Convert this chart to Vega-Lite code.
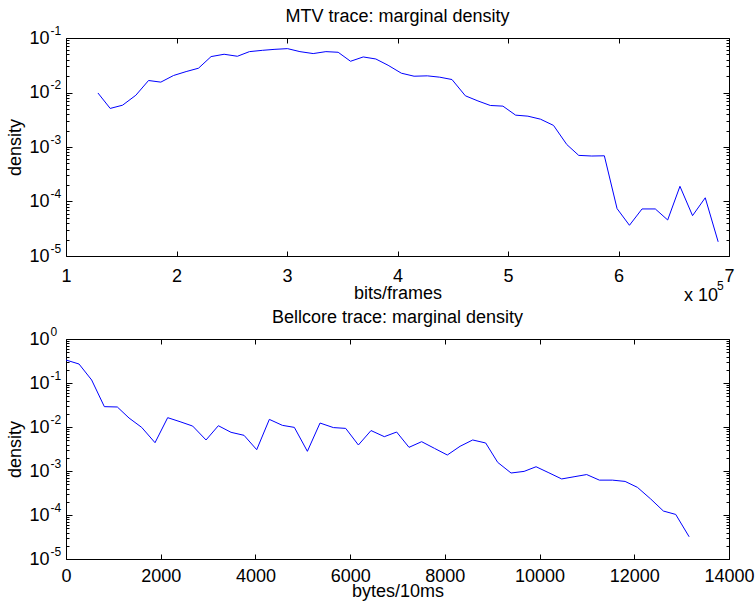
{
  "$schema": "https://vega.github.io/schema/vega-lite/v6.json",
  "background": "white",
  "padding": {"left": 5, "top": 7, "right": 0, "bottom": 0},
  "datasets": {
    "mtv": [
      {"x": 1.289, "density": 0.0098}, {"x": 1.400, "density": 0.0051}, {"x": 1.512, "density": 0.00585}, {"x": 1.632, "density": 0.0089},
      {"x": 1.747, "density": 0.0166}, {"x": 1.858, "density": 0.0155}, {"x": 1.973, "density": 0.0205}, {"x": 2.087, "density": 0.0242},
      {"x": 2.199, "density": 0.0279}, {"x": 2.313, "density": 0.0456}, {"x": 2.431, "density": 0.0503}, {"x": 2.551, "density": 0.0462},
      {"x": 2.660, "density": 0.0562}, {"x": 2.777, "density": 0.0594}, {"x": 2.891, "density": 0.062}, {"x": 3.005, "density": 0.0638},
      {"x": 3.117, "density": 0.0562}, {"x": 3.237, "density": 0.0518}, {"x": 3.352, "density": 0.0562}, {"x": 3.463, "density": 0.0547},
      {"x": 3.575, "density": 0.0374}, {"x": 3.690, "density": 0.0449}, {"x": 3.804, "density": 0.0412}, {"x": 3.915, "density": 0.0316},
      {"x": 4.035, "density": 0.0226}, {"x": 4.150, "density": 0.0199}, {"x": 4.270, "density": 0.0202}, {"x": 4.382, "density": 0.0191},
      {"x": 4.493, "density": 0.0173}, {"x": 4.614, "density": 0.0087}, {"x": 4.728, "density": 0.0070}, {"x": 4.840, "density": 0.00578},
      {"x": 4.954, "density": 0.00562}, {"x": 5.069, "density": 0.00384}, {"x": 5.180, "density": 0.00368}, {"x": 5.294, "density": 0.00324},
      {"x": 5.412, "density": 0.00249}, {"x": 5.532, "density": 0.00111}, {"x": 5.640, "density": 0.000702}, {"x": 5.758, "density": 0.000683},
      {"x": 5.872, "density": 0.00069}, {"x": 5.987, "density": 0.000074}, {"x": 6.099, "density": 0.0000366}, {"x": 6.213, "density": 0.000073},
      {"x": 6.333, "density": 0.000073}, {"x": 6.445, "density": 0.0000458}, {"x": 6.556, "density": 0.00019}, {"x": 6.670, "density": 0.000055},
      {"x": 6.785, "density": 0.000117}, {"x": 6.902, "density": 0.0000182}
    ],
    "bellcore": [
      {"x": 0, "density": 0.333}, {"x": 275, "density": 0.27}, {"x": 542, "density": 0.117}, {"x": 810, "density": 0.029},
      {"x": 1084, "density": 0.0285}, {"x": 1331, "density": 0.016}, {"x": 1598, "density": 0.0098}, {"x": 1880, "density": 0.0044},
      {"x": 2147, "density": 0.0163}, {"x": 2408, "density": 0.0132}, {"x": 2675, "density": 0.0105}, {"x": 2957, "density": 0.00507},
      {"x": 3217, "density": 0.0107}, {"x": 3485, "density": 0.00757}, {"x": 3759, "density": 0.00647}, {"x": 4027, "density": 0.00305},
      {"x": 4294, "density": 0.0149}, {"x": 4569, "density": 0.0109}, {"x": 4822, "density": 0.0098}, {"x": 5097, "density": 0.0028},
      {"x": 5364, "density": 0.0123}, {"x": 5646, "density": 0.0097}, {"x": 5906, "density": 0.0093}, {"x": 6174, "density": 0.0039},
      {"x": 6441, "density": 0.0083}, {"x": 6722, "density": 0.00603}, {"x": 6982, "density": 0.00769}, {"x": 7243, "density": 0.00345},
      {"x": 7510, "density": 0.00464}, {"x": 7781, "density": 0.00327}, {"x": 8052, "density": 0.00231}, {"x": 8321, "density": 0.00364},
      {"x": 8588, "density": 0.00507}, {"x": 8862, "density": 0.00433}, {"x": 9116, "density": 0.00157}, {"x": 9398, "density": 0.0009},
      {"x": 9673, "density": 0.00098}, {"x": 9926, "density": 0.00125}, {"x": 10197, "density": 0.00091}, {"x": 10467, "density": 0.00066},
      {"x": 10728, "density": 0.00074}, {"x": 10995, "density": 0.00083}, {"x": 11263, "density": 0.00062}, {"x": 11538, "density": 0.00062},
      {"x": 11806, "density": 0.00058}, {"x": 12066, "density": 0.000425}, {"x": 12347, "density": 0.000231}, {"x": 12615, "density": 0.000123},
      {"x": 12875, "density": 0.000103}, {"x": 13158, "density": 0.000032}
    ],
    "note": [{"base": "x 10", "exp": "5"}]
  },
  "config": {
    "font": "Liberation Sans",
    "view": {"stroke": "black", "strokeWidth": 1},
    "axis": {
      "domain": false, "tickColor": "black", "tickWidth": 1,
      "labelColor": "black", "titleColor": "black", "labelFont": "Liberation Sans", "titleFont": "Liberation Sans",
      "labelFontSize": 18, "titleFontSize": 18, "titleFontWeight": "normal", "grid": false,
      "labelFlush": false, "labelOverlap": false
    },
    "title": {"font": "Liberation Sans", "fontSize": 18, "fontWeight": "normal", "color": "black", "baseline": "alphabetic", "offset": -2}
  },
  "bounds": "flush",
  "spacing": 83,
  "vconcat": [
    {
      "width": 663, "height": 218,
      "title": {"text": "MTV trace: marginal density"},
      "data": {"name": "mtv"},
      "layer": [
        {
          "mark": {"type": "line", "color": "#0000ff", "strokeWidth": 1},
          "encoding": {
            "x": {"field": "x", "type": "quantitative", "scale": {"domain": [1, 7], "nice": false, "zero": false},
              "axis": {"orient": "bottom", "offset": -5, "values": [1, 2, 3, 4, 5, 6, 7], "tickSize": 5, "labelPadding": 11, "title": "bits/frames", "titleBaseline": "alphabetic", "titleY": 47}},
            "y": {"field": "density", "type": "quantitative", "scale": {"type": "log", "domain": [1e-5, 0.1], "nice": false},
              "axis": {"orient": "left", "offset": -6, "tickSize": 6, "title": "density", "titleBaseline": "alphabetic", "titleX": -52, "titleY": 109, "labelPadding": 17,
                "values": [1e-5, 1e-4, 1e-3, 1e-2, 1e-1], "labelExpr": "'10'"}}
          }
        },
        {
          "mark": {"type": "line", "opacity": 0},
          "encoding": {
            "x": {"field": "x", "type": "quantitative", "axis": null},
            "y": {"field": "density", "type": "quantitative",
              "axis": {"orient": "left", "ticks": false, "tickSize": 0, "title": null, "labelAlign": "left", "labelPadding": 16, "labelFontSize": 12, "labelOffset": -8,
                "values": [1e-5, 1e-4, 1e-3, 1e-2, 1e-1], "labelExpr": "'' + round(log(datum.value)/LN10)"}}
          }
        },
        {
          "mark": {"type": "line", "opacity": 0},
          "encoding": {
            "x": {"field": "x", "type": "quantitative", "axis": {"orient": "top", "offset": -5, "values": [1, 2, 3, 4, 5, 6, 7], "tickSize": 5, "labels": false, "title": null}},
            "y": {"field": "density", "type": "quantitative", "axis": {"orient": "right", "offset": -6, "tickSize": 6, "labels": false, "title": null, "values": [1e-5, 1e-4, 1e-3, 1e-2, 1e-1]}}
          }
        },
        {
          "mark": {"type": "line", "opacity": 0},
          "encoding": {
            "x": {"field": "x", "type": "quantitative", "axis": null},
            "y": {"field": "density", "type": "quantitative", "axis": {"orient": "left", "offset": -3, "tickSize": 3, "labels": false, "title": null,
              "values": [2e-5, 3e-5, 4e-5, 5e-5, 6e-5, 7e-5, 8e-5, 9e-5, 2e-4, 3e-4, 4e-4, 5e-4, 6e-4, 7e-4, 8e-4, 9e-4, 2e-3, 3e-3, 4e-3, 5e-3, 6e-3, 7e-3, 8e-3, 9e-3, 2e-2, 3e-2, 4e-2, 5e-2, 6e-2, 7e-2, 8e-2, 9e-2]}}
          }
        },
        {
          "mark": {"type": "line", "opacity": 0},
          "encoding": {
            "x": {"field": "x", "type": "quantitative", "axis": null},
            "y": {"field": "density", "type": "quantitative", "axis": {"orient": "right", "offset": -3, "tickSize": 3, "labels": false, "title": null,
              "values": [2e-5, 3e-5, 4e-5, 5e-5, 6e-5, 7e-5, 8e-5, 9e-5, 2e-4, 3e-4, 4e-4, 5e-4, 6e-4, 7e-4, 8e-4, 9e-4, 2e-3, 3e-3, 4e-3, 5e-3, 6e-3, 7e-3, 8e-3, 9e-3, 2e-2, 3e-2, 4e-2, 5e-2, 6e-2, 7e-2, 8e-2, 9e-2]}}
          }
        },
        {
          "data": {"name": "note"},
          "mark": {"type": "text", "align": "right", "baseline": "alphabetic", "fontSize": 18, "dx": -11, "dy": 45, "color": "black"},
          "encoding": {
            "text": {"field": "base"},
            "x": {"datum": 7, "type": "quantitative", "axis": null},
            "y": {"datum": 1e-5, "type": "quantitative", "axis": null}
          }
        },
        {
          "data": {"name": "note"},
          "mark": {"type": "text", "align": "left", "baseline": "alphabetic", "fontSize": 12, "dx": -12, "dy": 34, "color": "black"},
          "encoding": {
            "text": {"field": "exp"},
            "x": {"datum": 7, "type": "quantitative", "axis": null},
            "y": {"datum": 1e-5, "type": "quantitative", "axis": null}
          }
        }
      ],
      "resolve": {"axis": {"x": "independent", "y": "independent"}}
    },
    {
      "width": 663, "height": 220,
      "title": {"text": "Bellcore trace: marginal density"},
      "data": {"name": "bellcore"},
      "layer": [
        {
          "mark": {"type": "line", "color": "#0000ff", "strokeWidth": 1},
          "encoding": {
            "x": {"field": "x", "type": "quantitative", "scale": {"domain": [0, 14000], "nice": false},
              "axis": {"orient": "bottom", "offset": -5, "values": [0, 2000, 4000, 6000, 8000, 10000, 12000, 14000], "format": "d", "tickSize": 5, "labelPadding": 8, "title": "bytes/10ms", "titleBaseline": "alphabetic", "titleY": 42}},
            "y": {"field": "density", "type": "quantitative", "scale": {"type": "log", "domain": [1e-5, 1], "nice": false},
              "axis": {"orient": "left", "offset": -6, "tickSize": 6, "title": "density", "titleBaseline": "alphabetic", "titleX": -52, "titleY": 110, "labelPadding": 17,
                "values": [1e-5, 1e-4, 1e-3, 1e-2, 1e-1, 1], "labelExpr": "'10'"}}
          }
        },
        {
          "mark": {"type": "line", "opacity": 0},
          "encoding": {
            "x": {"field": "x", "type": "quantitative", "axis": null},
            "y": {"field": "density", "type": "quantitative",
              "axis": {"orient": "left", "ticks": false, "tickSize": 0, "title": null, "labelAlign": "left", "labelPadding": 16, "labelFontSize": 12, "labelOffset": -8,
                "values": [1e-5, 1e-4, 1e-3, 1e-2, 1e-1, 1], "labelExpr": "'' + round(log(datum.value)/LN10)"}}
          }
        },
        {
          "mark": {"type": "line", "opacity": 0},
          "encoding": {
            "x": {"field": "x", "type": "quantitative", "axis": {"orient": "top", "offset": -5, "values": [0, 2000, 4000, 6000, 8000, 10000, 12000, 14000], "tickSize": 5, "labels": false, "title": null}},
            "y": {"field": "density", "type": "quantitative", "axis": {"orient": "right", "offset": -6, "tickSize": 6, "labels": false, "title": null, "values": [1e-5, 1e-4, 1e-3, 1e-2, 1e-1, 1]}}
          }
        },
        {
          "mark": {"type": "line", "opacity": 0},
          "encoding": {
            "x": {"field": "x", "type": "quantitative", "axis": null},
            "y": {"field": "density", "type": "quantitative", "axis": {"orient": "left", "offset": -3, "tickSize": 3, "labels": false, "title": null,
              "values": [2e-5, 3e-5, 4e-5, 5e-5, 6e-5, 7e-5, 8e-5, 9e-5, 2e-4, 3e-4, 4e-4, 5e-4, 6e-4, 7e-4, 8e-4, 9e-4, 2e-3, 3e-3, 4e-3, 5e-3, 6e-3, 7e-3, 8e-3, 9e-3, 2e-2, 3e-2, 4e-2, 5e-2, 6e-2, 7e-2, 8e-2, 9e-2, 0.2, 0.3, 0.4, 0.5, 0.6, 0.7, 0.8, 0.9]}}
          }
        },
        {
          "mark": {"type": "line", "opacity": 0},
          "encoding": {
            "x": {"field": "x", "type": "quantitative", "axis": null},
            "y": {"field": "density", "type": "quantitative", "axis": {"orient": "right", "offset": -3, "tickSize": 3, "labels": false, "title": null,
              "values": [2e-5, 3e-5, 4e-5, 5e-5, 6e-5, 7e-5, 8e-5, 9e-5, 2e-4, 3e-4, 4e-4, 5e-4, 6e-4, 7e-4, 8e-4, 9e-4, 2e-3, 3e-3, 4e-3, 5e-3, 6e-3, 7e-3, 8e-3, 9e-3, 2e-2, 3e-2, 4e-2, 5e-2, 6e-2, 7e-2, 8e-2, 9e-2, 0.2, 0.3, 0.4, 0.5, 0.6, 0.7, 0.8, 0.9]}}
          }
        }
      ],
      "resolve": {"axis": {"x": "independent", "y": "independent"}}
    }
  ]
}
